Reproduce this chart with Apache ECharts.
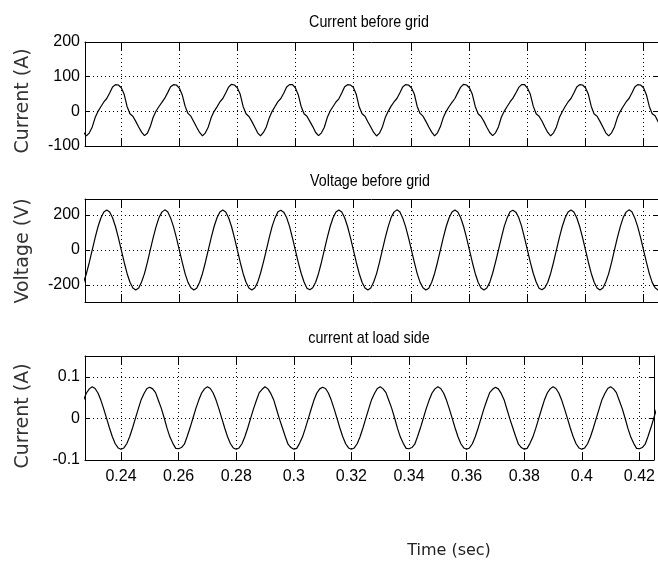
<!DOCTYPE html>
<html>
<head>
<meta charset="utf-8">
<script src="https://cdn.jsdelivr.net/npm/echarts@6/dist/echarts.min.js"></script>
<style>
html,body{margin:0;padding:0;background:#fff;}
#c{width:658px;height:565px;}
</style>
</head>
<body>
<div id="c"></div>
<script>
// ---- data ----
const tStart = 0.227;          // first sample time (s)
const tStep = 0.001;           // sample spacing (s)
const xTicks = [0.24, 0.26, 0.28, 0.30, 0.32, 0.34, 0.36, 0.38, 0.40, 0.42];
const xTickLabels = ['0.24', '0.26', '0.28', '0.3', '0.32', '0.34', '0.36', '0.38', '0.4', '0.42'];

const titles = ['Current before grid', 'Voltage before grid', 'current at load side'];
const yNames = ['Current (A)', 'Voltage (V)', 'Current (A)'];
const xName = 'Time (sec)';

const yTicks1 = [-100, 0, 100, 200];
const yTicks2 = [-200, 0, 200];
const yTicks3 = [-0.1, 0, 0.1];

const currentBeforeGrid = [
  -61,-71,-62,-45,-18,0,14,27,37,53,70,77,76,68,49,14,-7,-14,-29,-45,
  -60,-70,-63,-44,-17,1,14,26,38,54,71,77,76,67,48,15,-6,-14,-30,-46,
  -61,-71,-62,-45,-18,0,13,27,37,53,70,78,76,68,49,14,-7,-15,-29,-45,
  -62,-71,-61,-45,-19,0,14,28,37,52,70,77,77,68,48,14,-7,-14,-29,-44,
  -61,-70,-62,-46,-18,1,14,27,36,53,71,77,76,69,49,13,-7,-14,-30,-45,
  -61,-71,-63,-45,-18,0,15,27,37,53,70,77,76,68,50,14,-6,-14,-29,-45,
  -60,-71,-62,-44,-18,0,14,26,37,54,70,78,76,68,49,14,-7,-15,-29,-46,
  -61,-70,-62,-45,-17,0,14,27,38,53,69,77,77,67,49,15,-7,-14,-28,-45,
  -61,-71,-62,-45,-18,-1,14,27,37,53,70,77,76,68,49,14,-8,-14,-29,-45,
  -62,-71,-62,-45,-18,0,14,27,37,53,70,77,76,68,48,14,-7,-13,-29,-45
];

const voltageBeforeGrid = [
  -184,-134,-70,0,70,134,184,217,228,217,184,134,70,0,-70,-134,-184,-217,-228,-217,
  -183,-135,-71,1,71,133,185,216,229,218,183,133,71,1,-69,-135,-185,-216,-229,-218,
  -184,-134,-70,0,70,134,184,217,228,217,184,134,70,0,-70,-134,-184,-217,-228,-217,
  -185,-133,-69,-1,70,135,183,218,227,216,185,135,69,-1,-71,-133,-183,-218,-227,-216,
  -184,-134,-70,0,71,134,184,217,228,217,184,134,70,0,-70,-134,-184,-217,-228,-217,
  -183,-135,-71,1,70,133,185,216,229,218,183,133,71,1,-69,-135,-185,-216,-229,-218,
  -184,-134,-70,0,70,134,184,217,228,217,184,134,70,0,-70,-134,-184,-217,-228,-217,
  -185,-133,-69,-1,69,135,183,218,227,216,185,135,69,-1,-71,-133,-183,-218,-227,-216,
  -184,-134,-70,0,70,134,184,217,228,217,184,134,70,0,-70,-134,-184,-217,-228,-217,
  -183,-135,-71,1,71,133,185,216,229,218,183,133,71,1,-69,-135,-185,-216,-229,-218
];

const currentLoadSide = [
  0.044,0.061,0.071,0.076,0.072,0.061,0.044,0.023,0.000,-0.023,-0.044,-0.061,-0.071,-0.074,-0.071,-0.061,-0.044,-0.023,0.000,0.023,
  0.045,0.060,0.072,0.075,0.071,0.062,0.043,0.024,0.001,-0.024,-0.045,-0.060,-0.072,-0.073,-0.070,-0.062,-0.043,-0.022,0.001,0.024,
  0.044,0.061,0.071,0.076,0.072,0.061,0.044,0.023,0.000,-0.023,-0.044,-0.061,-0.071,-0.074,-0.071,-0.061,-0.044,-0.023,0.000,0.023,
  0.043,0.062,0.070,0.076,0.071,0.060,0.045,0.022,-0.001,-0.022,-0.043,-0.062,-0.070,-0.074,-0.072,-0.060,-0.045,-0.024,-0.001,0.022,
  0.044,0.061,0.071,0.075,0.072,0.061,0.044,0.023,0.000,-0.023,-0.044,-0.061,-0.071,-0.074,-0.071,-0.061,-0.044,-0.023,0.000,0.023,
  0.045,0.060,0.072,0.076,0.071,0.062,0.043,0.024,0.001,-0.024,-0.045,-0.060,-0.072,-0.073,-0.070,-0.062,-0.043,-0.022,0.001,0.024,
  0.044,0.061,0.071,0.076,0.072,0.061,0.044,0.023,0.000,-0.023,-0.044,-0.061,-0.071,-0.074,-0.071,-0.061,-0.044,-0.023,0.000,0.023,
  0.043,0.062,0.070,0.075,0.071,0.060,0.045,0.022,-0.001,-0.022,-0.043,-0.062,-0.070,-0.074,-0.072,-0.060,-0.045,-0.024,-0.001,0.022,
  0.044,0.061,0.071,0.076,0.072,0.061,0.044,0.023,0.000,-0.023,-0.044,-0.061,-0.071,-0.074,-0.071,-0.061,-0.044,-0.023,0.000,0.023,
  0.045,0.060,0.072,0.076,0.071,0.062,0.043,0.024,0.001,-0.024,-0.045,-0.060,-0.072,-0.073,-0.070,-0.062,-0.043,-0.022,0.001,0.024
];

// ---- chart ----
const X_MIN = 0.2275, X_MAX = 0.425;
const narrow = '"Liberation Sans Narrow", "Arial Narrow", "Liberation Sans", sans-serif';
const labelFont = { fontFamily: narrow, fontSize: 16, color: '#000' };
const lineBlack = { color: '#000', width: 1 };
const dotted = { color: '#000', width: 1, type: [1, 3] };

function pairs(vals) {
  return vals.map((v, i) => [+(tStart + i * tStep).toFixed(4), v]);
}

const gridsLayout = [
  { top: 42, height: 104 },
  { top: 199, height: 103 },
  { top: 356, height: 104 }
];
const yRanges = [[-100, 200], [-297, 291], [-0.1, 0.15]];
const yTicksAll = [yTicks1, yTicks2, yTicks3];
const seriesVals = [currentBeforeGrid, voltageBeforeGrid, currentLoadSide];

const grid = [], xAxis = [], yAxis = [], series = [];
gridsLayout.forEach((g, k) => {
  grid.push({ left: 85, width: 575, top: g.top, height: g.height, containLabel: false });
  xAxis.push({
    type: 'value', gridIndex: k, position: 'bottom', min: X_MIN, max: X_MAX,
    axisLine: { show: true, lineStyle: lineBlack, onZero: false },
    axisTick: { show: true, inside: true, length: 8, lineStyle: lineBlack, customValues: xTicks },
    axisLabel: {
      show: k === 2, customValues: xTicks, margin: 9, ...labelFont,
      formatter: v => { const i = xTicks.findIndex(t => Math.abs(t - v) < 1e-6); return i >= 0 ? xTickLabels[i] : ''; }
    },
    splitLine: { show: true, lineStyle: dotted }
  });
  xAxis.push({
    type: 'value', gridIndex: k, position: 'top', min: X_MIN, max: X_MAX,
    axisLine: { show: true, lineStyle: lineBlack, onZero: false },
    axisTick: { show: true, inside: true, length: 8, lineStyle: lineBlack, customValues: xTicks },
    axisLabel: { show: false },
    splitLine: { show: false }
  });
  const yt = yTicksAll[k];
  yAxis.push({
    type: 'value', gridIndex: k, position: 'left', min: yRanges[k][0], max: yRanges[k][1],
    axisLine: { show: true, lineStyle: lineBlack, onZero: false },
    axisTick: { show: true, inside: true, length: 5, lineStyle: lineBlack, customValues: yt },
    axisLabel: { show: true, customValues: yt, margin: 5, ...labelFont, formatter: v => String(+v.toFixed(3)) },
    splitLine: { show: true, lineStyle: dotted }
  });
  yAxis.push({
    type: 'value', gridIndex: k, position: 'right', min: yRanges[k][0], max: yRanges[k][1],
    axisLine: { show: true, lineStyle: lineBlack, onZero: false },
    axisTick: { show: true, inside: true, length: 5, lineStyle: lineBlack, customValues: yt },
    axisLabel: { show: false },
    splitLine: { show: false }
  });
  series.push({
    type: 'line', xAxisIndex: 2 * k, yAxisIndex: 2 * k, data: pairs(seriesVals[k]),
    showSymbol: false, symbol: 'none', clip: true,
    lineStyle: { color: '#000', width: 1.2 }
  });
});

const sansFont = '"DejaVu Sans", Verdana, sans-serif';
const graphic = [];
const titlePos = [[369, 22], [370, 181], [369, 338]];
titles.forEach((t, k) => graphic.push({
  type: 'text', x: titlePos[k][0], y: titlePos[k][1], scaleX: 0.84,
  style: { text: t, align: 'center', verticalAlign: 'middle', fontFamily: narrow, fontSize: 17, fill: '#000' }
}));
const yNamePos = [[23, 101], [23, 251], [23, 416]];
yNames.forEach((t, k) => graphic.push({
  type: 'text', x: yNamePos[k][0], y: yNamePos[k][1], rotation: Math.PI / 2,
  style: { text: t, align: 'center', verticalAlign: 'middle', fontFamily: sansFont, fontSize: 19, fill: '#333' }
}));
graphic.push({
  type: 'text', x: 449, y: 551,
  style: { text: xName, align: 'center', verticalAlign: 'middle', fontFamily: sansFont, fontSize: 16, fill: '#222' }
});

const chart = echarts.init(document.getElementById('c'), null, { renderer: 'canvas' });
chart.setOption({
  animation: false,
  backgroundColor: '#fff',
  grid, xAxis, yAxis, series, graphic
});
</script>
</body>
</html>
